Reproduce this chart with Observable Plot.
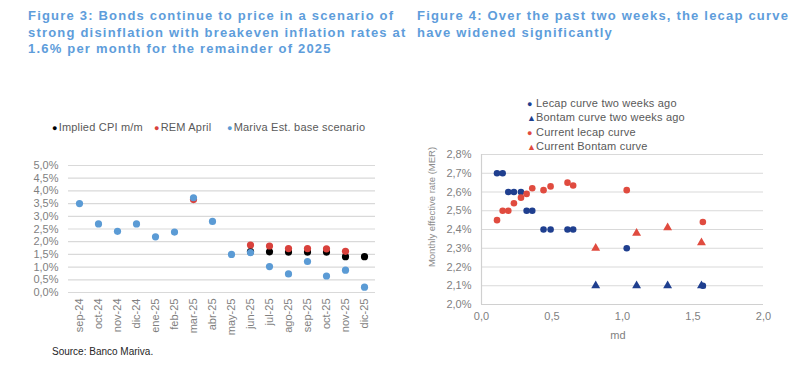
<!DOCTYPE html>
<html>
<head>
<meta charset="utf-8">
<script src="https://cdn.jsdelivr.net/npm/d3@7"></script>
<script src="https://cdn.jsdelivr.net/npm/@observablehq/plot@0.6"></script>
<style>
  html, body { margin: 0; padding: 0; background: #fff; }
  body { width: 800px; height: 368px; position: relative; overflow: hidden;
         font-family: "Liberation Sans", Arial, sans-serif; }
  .title { position: absolute; top: 8px; color: #5E9DDB; font-weight: bold;
           font-size: 13px; line-height: 16.5px; letter-spacing: 1.2px; white-space: nowrap; }
  .abs { position: absolute; white-space: nowrap; }
  .leg { font-size: 11px; color: #595959; letter-spacing: 0.2px; line-height: 13px; }
  .mk { display: inline-block; margin-right: 1px; }
  .chart { position: absolute; }
</style>
</head>
<body>
<div class="title" style="left:28px">Figure 3: Bonds continue to price in a scenario of<br>strong disinflation with breakeven inflation rates at<br>1.6% per month for the remainder of 2025</div>
<div class="title" style="left:417px">Figure 4: Over the past two weeks, the lecap curve<br>have widened significantly</div>

<div id="leftLegend"></div>
<div id="left" class="chart" style="left:0px;top:150px"></div>
<div class="abs" style="left:52px;top:346px;font-size:10px;color:#262626">Source: Banco Mariva.</div>

<div id="rightLegend"></div>
<div class="abs" style="left:431px;top:207px;transform:translate(-50%,-50%) rotate(-90deg);font-size:9.5px;color:#8c8c8c">Monthly effective rate (MER)</div>
<div id="right" class="chart" style="left:400px;top:140px"></div>
<div class="abs" style="left:618px;top:335px;transform:translate(-50%,-50%);font-size:11px;color:#7f7f7f">md</div>

<script>
// ---------- Figure 3 data ----------
const months = ["sep-24","oct-24","nov-24","dic-24","ene-25","feb-25","mar-25","abr-25","may-25","jun-25","jul-25","ago-25","sep-25","oct-25","nov-25","dic-25"];
const impliedCPI = [null,null,null,null,null,null,null,null,null,1.61,1.60,1.59,1.59,1.59,1.41,1.41];
const remApril   = [null,null,null,null,null,null,3.66,null,null,1.87,1.83,1.73,1.73,1.72,1.62,null];
const marivaBase = [3.5,2.7,2.41,2.7,2.19,2.38,3.73,2.8,1.5,1.57,1.02,0.73,1.22,0.65,0.88,0.21];
const yTicksLeft = [0,0.5,1,1.5,2,2.5,3,3.5,4,4.5,5];
const leftSeries = ["Implied CPI m/m","REM April","Mariva Est. base scenario"];
const leftColors = ["#000000","#D9413C","#5B9BD5"];

// ---------- Figure 4 data ----------
const lecapOldMd   = [0.11,0.15,0.19,0.23,0.28,0.32,0.36,0.44,0.49,0.61,0.65,1.03,1.57];
const lecapOldRate = [2.7,2.7,2.6,2.6,2.6,2.5,2.5,2.4,2.4,2.4,2.4,2.3,2.1];
const bontamOldMd   = [0.81,1.10,1.32,1.56];
const bontamOldRate = [2.1,2.1,2.1,2.1];
const lecapNowMd   = [0.11,0.15,0.19,0.23,0.28,0.32,0.36,0.44,0.49,0.61,0.65,1.03,1.57];
const lecapNowRate = [2.45,2.5,2.5,2.54,2.57,2.59,2.62,2.61,2.63,2.65,2.635,2.61,2.44];
const bontamNowMd   = [0.81,1.10,1.32,1.56];
const bontamNowRate = [2.3,2.38,2.41,2.33];
const yTicksRight = [2.0,2.1,2.2,2.3,2.4,2.5,2.6,2.7,2.8];
const xTicksRight = [0,0.5,1,1.5,2];
const rightSeries = ["Lecap curve two weeks ago","Bontam curve two weeks ago","Current lecap curve","Current Bontam curve"];
const navy = "#1F3F8F", red = "#E04B3F";

const pct = d => d.toFixed(1).replace(".", ",") + "%";
const dec = d => d.toFixed(1).replace(".", ",");

// ---------- left chart ----------
const leftRows = [];
[impliedCPI, remApril, marivaBase].forEach((arr, s) => {
  arr.forEach((v, i) => { if (v != null) leftRows.push({month: months[i], value: v, series: leftSeries[s]}); });
});

const left = Plot.plot({
  width: 390, height: 190,
  marginLeft: 68, marginRight: 15, marginTop: 15, marginBottom: 48,
  style: {fontFamily: "'Liberation Sans', Arial, sans-serif", color: "#7f7f7f", background: "transparent"},
  x: {type: "point", domain: months, padding: 0.5},
  y: {domain: [0, 5]},
  color: {domain: leftSeries, range: leftColors},
  marks: [
    Plot.gridY(yTicksLeft, {stroke: "#d9d9d9", strokeOpacity: 1, strokeWidth: 1.2}),
    Plot.axisY(yTicksLeft, {tickSize: 0, tickPadding: 10, tickFormat: pct, fontSize: 11, label: null}),
    Plot.axisX({tickRotate: -90, tickSize: 0, tickPadding: 6, fontSize: 11, label: null}),
    Plot.dot(leftRows, {x: "month", y: "value", fill: "series", r: 3.6})
  ]
});
document.getElementById("left").appendChild(left);

// left legend
const legL = document.getElementById("leftLegend");
const legLeftPos = [52, 154, 227];
leftSeries.forEach((s, i) => {
  const d = document.createElement("div");
  d.className = "abs leg";
  d.style.left = legLeftPos[i] + "px";
  d.style.top = "121px";
  d.innerHTML = `<span class="mk" style="color:${leftColors[i]};font-size:9px">●</span>${s}`;
  legL.appendChild(d);
});

// ---------- right chart ----------
const rightRows = [];
const addR = (mds, rates, k) => mds.forEach((m, i) => rightRows.push({md: m, rate: rates[i], series: rightSeries[k]}));
addR(lecapOldMd, lecapOldRate, 0);
addR(bontamOldMd, bontamOldRate, 1);
addR(lecapNowMd, lecapNowRate, 2);
addR(bontamNowMd, bontamNowRate, 3);

const right = Plot.plot({
  width: 380, height: 210,
  marginLeft: 81, marginRight: 17, marginTop: 14, marginBottom: 46,
  style: {fontFamily: "'Liberation Sans', Arial, sans-serif", color: "#7f7f7f", background: "transparent"},
  x: {domain: [0, 2]},
  y: {domain: [2.0, 2.8]},
  color: {domain: rightSeries, range: [navy, navy, red, red]},
  symbol: {domain: rightSeries, range: ["circle", "triangle", "circle", "triangle"]},
  marks: [
    Plot.gridY(yTicksRight.slice(1), {stroke: "#d9d9d9", strokeOpacity: 1, strokeWidth: 1.2}),
    Plot.ruleX([0], {stroke: "#d0d0d0", strokeWidth: 1.2}),
    Plot.ruleY([2.0], {stroke: "#d0d0d0", strokeWidth: 1.2}),
    Plot.axisY(yTicksRight, {tickSize: 0, tickPadding: 10, tickFormat: pct, fontSize: 11, label: null}),
    Plot.axisX(xTicksRight, {tickSize: 0, tickPadding: 8, tickFormat: dec, fontSize: 11, label: null}),
    Plot.dot(rightRows, {x: "md", y: "rate", fill: "series", symbol: "series", r: 3.3})
  ]
});
document.getElementById("right").appendChild(right);

// right legend
const legR = document.getElementById("rightLegend");
const legSym = ["●","▲","●","▲"];
const legCol = [navy, navy, red, red];
const legTop = [97, 111, 126, 140];
rightSeries.forEach((s, i) => {
  const d = document.createElement("div");
  d.className = "abs leg";
  d.style.left = "527px";
  d.style.top = legTop[i] + "px";
  d.innerHTML = `<span class="mk" style="color:${legCol[i]};font-size:9px;width:8px">${legSym[i]}</span>${s}`;
  legR.appendChild(d);
});
</script>
</body>
</html>
